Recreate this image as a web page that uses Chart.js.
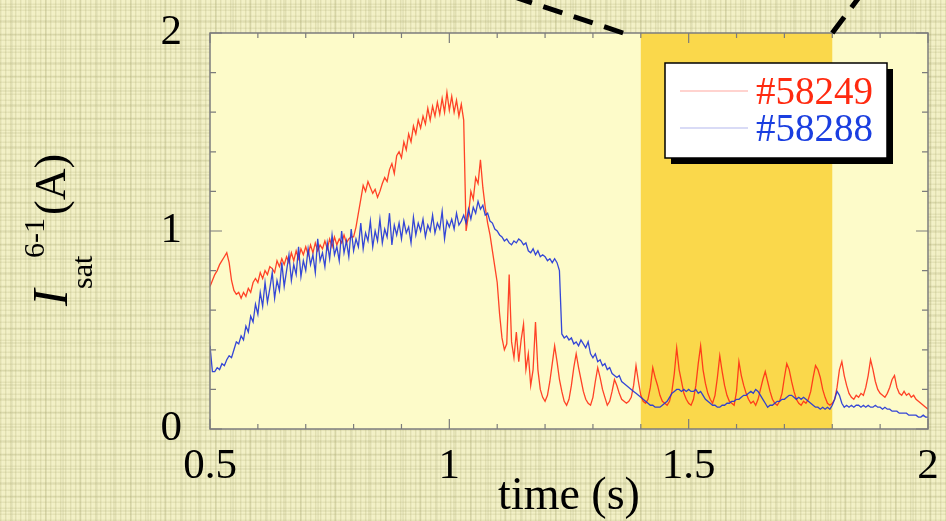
<!DOCTYPE html>
<html><head><meta charset="utf-8">
<script src="https://cdn.jsdelivr.net/npm/chart.js@4.4.1/dist/chart.umd.min.js"></script>
<style>
html,body{margin:0;padding:0;width:946px;height:521px;overflow:hidden;}
body{
  background-color:#f2f0c5;
  background-image:
    repeating-linear-gradient(90deg, rgba(165,163,105,0.22) 0px, rgba(165,163,105,0.22) 1px, rgba(255,255,235,0.18) 2px, transparent 3px, transparent 5px),
    repeating-linear-gradient(0deg, rgba(165,163,105,0.18) 0px, rgba(165,163,105,0.18) 1px, transparent 2px, transparent 6px),
    repeating-linear-gradient(90deg, transparent 0px, transparent 11px, rgba(140,140,85,0.13) 11px, rgba(140,140,85,0.13) 13px, transparent 13px, transparent 17px),
    repeating-linear-gradient(0deg, transparent 0px, transparent 9px, rgba(140,140,85,0.13) 9px, rgba(140,140,85,0.13) 11px, transparent 11px, transparent 14px);
}
canvas{display:block;}
</style></head><body>
<canvas id="c" width="946" height="521"></canvas>
<script>
// ---- data ----
const seriesNames = ['#58249', '#58288'];
const bandRange = [1.4, 1.8];
const xTickLabels = ['0.5', '1', '1.5', '2'];
const yTickLabels = ['0', '1', '2'];

const time = [
0.500,0.505,0.510,0.515,0.520,0.525,0.530,0.535,0.540,0.545,
0.550,0.555,0.560,0.565,0.570,0.575,0.580,0.585,0.590,0.595,
0.600,0.605,0.610,0.615,0.620,0.625,0.630,0.635,0.640,0.645,
0.650,0.655,0.660,0.665,0.670,0.675,0.680,0.685,0.690,0.695,
0.700,0.705,0.710,0.715,0.720,0.725,0.730,0.735,0.740,0.745,
0.750,0.755,0.760,0.765,0.770,0.775,0.780,0.785,0.790,0.795,
0.800,0.805,0.810,0.815,0.820,0.825,0.830,0.835,0.840,0.845,
0.850,0.855,0.860,0.865,0.870,0.875,0.880,0.885,0.890,0.895,
0.900,0.905,0.910,0.915,0.920,0.925,0.930,0.935,0.940,0.945,
0.950,0.955,0.960,0.965,0.970,0.975,0.980,0.985,0.990,0.995,
1.000,1.005,1.010,1.015,1.020,1.025,1.030,1.035,1.040,1.045,
1.050,1.055,1.060,1.065,1.070,1.075,1.080,1.085,1.090,1.095,
1.100,1.105,1.110,1.115,1.120,1.125,1.130,1.135,1.140,1.145,
1.150,1.155,1.160,1.165,1.170,1.175,1.180,1.185,1.190,1.195,
1.200,1.205,1.210,1.215,1.220,1.225,1.230,1.235,1.240,1.245,
1.250,1.255,1.260,1.265,1.270,1.275,1.280,1.285,1.290,1.295,
1.300,1.305,1.310,1.315,1.320,1.325,1.330,1.335,1.340,1.345,
1.350,1.355,1.360,1.365,1.370,1.375,1.380,1.385,1.390,1.395,
1.400,1.405,1.410,1.415,1.420,1.425,1.430,1.435,1.440,1.445,
1.450,1.455,1.460,1.465,1.470,1.475,1.480,1.485,1.490,1.495,
1.500,1.505,1.510,1.515,1.520,1.525,1.530,1.535,1.540,1.545,
1.550,1.555,1.560,1.565,1.570,1.575,1.580,1.585,1.590,1.595,
1.600,1.605,1.610,1.615,1.620,1.625,1.630,1.635,1.640,1.645,
1.650,1.655,1.660,1.665,1.670,1.675,1.680,1.685,1.690,1.695,
1.700,1.705,1.710,1.715,1.720,1.725,1.730,1.735,1.740,1.745,
1.750,1.755,1.760,1.765,1.770,1.775,1.780,1.785,1.790,1.795,
1.800,1.805,1.810,1.815,1.820,1.825,1.830,1.835,1.840,1.845,
1.850,1.855,1.860,1.865,1.870,1.875,1.880,1.885,1.890,1.895,
1.900,1.905,1.910,1.915,1.920,1.925,1.930,1.935,1.940,1.945,
1.950,1.955,1.960,1.965,1.970,1.975,1.980,1.985,1.990,1.995,2.000
];

const shot58249 = [
0.72,0.75,0.78,0.80,0.83,0.85,0.87,0.89,0.84,0.75,
0.70,0.68,0.69,0.66,0.69,0.67,0.71,0.69,0.74,0.76,
0.74,0.79,0.76,0.80,0.78,0.82,0.81,0.79,0.85,0.82,
0.86,0.83,0.87,0.84,0.89,0.85,0.90,0.86,0.91,0.88,
0.92,0.88,0.93,0.89,0.94,0.90,0.93,0.91,0.95,0.91,
0.96,0.92,0.97,0.93,0.96,0.94,0.98,0.94,0.96,0.97,
0.97,1.02,1.09,1.16,1.23,1.20,1.25,1.22,1.19,1.21,
1.17,1.20,1.24,1.27,1.25,1.31,1.34,1.29,1.38,1.40,
1.37,1.45,1.41,1.49,1.45,1.53,1.49,1.56,1.52,1.58,
1.54,1.62,1.56,1.63,1.58,1.65,1.59,1.67,1.60,1.70,
1.61,1.68,1.60,1.66,1.58,1.64,1.56,1.00,1.08,1.20,
1.16,1.27,1.24,1.36,1.22,1.12,1.04,0.98,0.90,0.82,
0.74,0.58,0.46,0.40,0.43,0.78,0.44,0.36,0.49,0.34,
0.45,0.53,0.30,0.38,0.22,0.30,0.54,0.30,0.20,0.16,
0.14,0.17,0.24,0.33,0.42,0.34,0.25,0.19,0.14,0.12,
0.15,0.22,0.31,0.38,0.31,0.25,0.19,0.15,0.13,0.12,
0.16,0.24,0.31,0.26,0.20,0.16,0.12,0.14,0.19,0.25,
0.22,0.18,0.15,0.14,0.13,0.14,0.16,0.22,0.32,0.24,
0.17,0.14,0.13,0.15,0.21,0.31,0.26,0.22,0.17,0.14,
0.13,0.12,0.14,0.19,0.28,0.41,0.30,0.24,0.18,0.15,
0.13,0.12,0.15,0.22,0.33,0.42,0.30,0.23,0.18,0.15,
0.13,0.17,0.26,0.37,0.29,0.22,0.17,0.14,0.13,0.12,
0.19,0.34,0.27,0.22,0.18,0.15,0.13,0.14,0.12,0.15,
0.20,0.25,0.29,0.24,0.19,0.15,0.13,0.12,0.14,0.18,
0.26,0.33,0.30,0.24,0.19,0.15,0.13,0.12,0.14,0.13,
0.15,0.19,0.26,0.32,0.30,0.26,0.20,0.16,0.13,0.12,
0.13,0.15,0.21,0.30,0.34,0.27,0.22,0.18,0.16,0.15,
0.17,0.16,0.18,0.17,0.21,0.27,0.35,0.30,0.24,0.20,
0.18,0.17,0.16,0.18,0.21,0.25,0.27,0.21,0.18,0.17,
0.19,0.17,0.18,0.16,0.17,0.15,0.14,0.13,0.12,0.11,0.10
];

const shot58288 = [
0.42,0.29,0.29,0.31,0.30,0.33,0.32,0.35,0.37,0.36,
0.40,0.44,0.43,0.47,0.45,0.52,0.49,0.57,0.54,0.63,
0.58,0.69,0.62,0.74,0.64,0.71,0.79,0.66,0.75,0.70,
0.84,0.72,0.80,0.88,0.75,0.83,0.78,0.92,0.77,0.85,
0.80,0.91,0.83,0.88,0.79,0.96,0.85,0.89,0.82,0.94,
0.86,0.98,0.88,0.92,0.85,1.00,0.89,0.95,0.87,1.01,
0.90,0.96,0.92,1.04,0.91,0.99,0.95,1.05,0.92,1.00,
0.95,1.06,0.94,1.01,0.97,1.09,0.93,1.03,0.98,1.04,
0.96,1.05,0.99,1.02,0.94,1.07,0.98,1.04,1.00,1.06,
0.97,1.03,1.00,1.08,0.99,1.04,1.01,1.10,0.96,1.05,
1.02,1.06,1.01,1.09,1.03,1.05,1.08,1.04,1.11,1.06,
1.12,1.09,1.15,1.11,1.13,1.08,1.09,1.05,1.04,1.01,
1.00,0.98,0.97,0.95,0.96,0.94,0.93,0.95,0.94,0.96,
0.95,0.93,0.94,0.90,0.89,0.91,0.88,0.90,0.87,0.88,
0.87,0.85,0.86,0.84,0.86,0.84,0.80,0.48,0.46,0.47,
0.45,0.46,0.43,0.44,0.42,0.45,0.43,0.41,0.44,0.38,
0.36,0.38,0.34,0.35,0.32,0.33,0.30,0.31,0.28,0.27,
0.26,0.27,0.24,0.23,0.22,0.21,0.20,0.19,0.18,0.17,
0.16,0.15,0.14,0.13,0.12,0.12,0.11,0.11,0.11,0.12,
0.13,0.14,0.16,0.18,0.19,0.20,0.20,0.19,0.20,0.19,
0.20,0.19,0.19,0.20,0.18,0.19,0.17,0.15,0.14,0.13,
0.12,0.12,0.11,0.11,0.12,0.12,0.13,0.13,0.14,0.14,
0.15,0.15,0.16,0.17,0.17,0.18,0.19,0.18,0.20,0.19,
0.17,0.15,0.13,0.11,0.12,0.12,0.13,0.14,0.14,0.15,
0.15,0.16,0.17,0.17,0.16,0.15,0.16,0.15,0.16,0.15,
0.14,0.13,0.12,0.11,0.11,0.10,0.11,0.10,0.11,0.10,
0.12,0.15,0.19,0.17,0.13,0.11,0.12,0.11,0.12,0.11,
0.12,0.12,0.11,0.12,0.11,0.12,0.11,0.11,0.12,0.11,
0.11,0.10,0.11,0.10,0.10,0.09,0.09,0.09,0.08,0.08,
0.08,0.08,0.07,0.07,0.07,0.07,0.06,0.06,0.07,0.06,0.06
];

// ---- styles ----
const SERIF = '"Liberation Serif", "Times New Roman", serif';
const lineColors = ['rgba(255,45,20,0.9)', 'rgba(30,50,215,0.9)'];
const legendLineColors = ['#ffa8a0', '#b4b8ee'];
const legendTextColors = ['#ff2a10', '#1a3ee0'];

function pts(ys){ return time.map((t,i)=>({x:t, y:ys[i]})); }
function isLabel(v, list){ return list.indexOf(String(Math.round(v*10)/10)) >= 0; }

const areaPlugin = {
  id:'area',
  beforeDatasetsDraw(chart){
    const {ctx, chartArea:a, scales:{x}} = chart;
    ctx.save();
    ctx.fillStyle = '#fdfbc9';
    ctx.fillRect(a.left, a.top, a.right-a.left, a.bottom-a.top);
    const b0 = x.getPixelForValue(bandRange[0]), b1 = x.getPixelForValue(bandRange[1]);
    ctx.fillStyle = '#fad84b';
    ctx.fillRect(b0, a.top, b1-b0, a.bottom-a.top);
    ctx.restore();
  }
};

const decoPlugin = {
  id:'deco',
  afterDraw(chart){
    const {ctx, chartArea:a, scales:{x, y}} = chart;
    ctx.save();
    // frame
    ctx.strokeStyle = '#7c7c7c';
    ctx.lineWidth = 1.5;
    ctx.strokeRect(a.left, a.top, a.right-a.left, a.bottom-a.top);
    // ticks
    ctx.lineWidth = 1.2;
    x.ticks.forEach(t=>{
      const px = x.getPixelForValue(t.value);
      const L = isLabel(t.value, xTickLabels) ? 10 : 5;
      ctx.beginPath();
      ctx.moveTo(px, a.bottom); ctx.lineTo(px, a.bottom-L);
      ctx.moveTo(px, a.top); ctx.lineTo(px, a.top+L);
      ctx.stroke();
    });
    y.ticks.forEach(t=>{
      const py = y.getPixelForValue(t.value);
      const L = isLabel(t.value, yTickLabels) ? 12 : 6;
      ctx.beginPath();
      ctx.moveTo(a.left, py); ctx.lineTo(a.left+L, py);
      ctx.moveTo(a.right, py); ctx.lineTo(a.right-L, py);
      ctx.stroke();
    });
    // dashed zoom lines
    ctx.strokeStyle = '#000';
    ctx.lineWidth = 5;
    ctx.setLineDash([20, 12]);
    const l0 = x.getPixelForValue(1.363);
    ctx.beginPath(); ctx.moveTo(l0, a.top); ctx.lineTo(l0-106, a.top-35); ctx.stroke();
    const r0 = x.getPixelForValue(bandRange[1]);
    ctx.beginPath(); ctx.moveTo(r0, a.top); ctx.lineTo(r0+30, a.top-40); ctx.stroke();
    ctx.setLineDash([]);
    // legend
    const bw = 222, bh = 95;
    const bx = a.right - 41 - bw, by = a.top + 30;
    ctx.fillStyle = '#000';
    ctx.fillRect(bx+6, by+6, bw, bh);
    ctx.fillStyle = '#fff';
    ctx.fillRect(bx, by, bw, bh);
    ctx.strokeStyle = '#000';
    ctx.lineWidth = 1.5;
    ctx.strokeRect(bx, by, bw, bh);
    ctx.font = '39px ' + SERIF;
    ctx.textBaseline = 'alphabetic';
    ctx.textAlign = 'left';
    seriesNames.forEach((name, i)=>{
      const ly = by + 28 + i*37;
      ctx.strokeStyle = legendLineColors[i];
      ctx.lineWidth = 1.2;
      ctx.beginPath(); ctx.moveTo(bx+15, ly); ctx.lineTo(bx+83, ly); ctx.stroke();
      ctx.fillStyle = legendTextColors[i];
      ctx.fillText(name, bx+91, ly+13);
    });
    // x title
    ctx.fillStyle = '#000';
    ctx.font = '46px ' + SERIF;
    ctx.textAlign = 'center';
    ctx.fillText('time (s)', (a.left+a.right)/2, 509);
    // y title (rotated)
    ctx.rotate(-Math.PI/2);
    ctx.textAlign = 'left';
    ctx.font = 'italic 50px ' + SERIF;
    ctx.fillText('I', -306, 67);
    ctx.font = '30px ' + SERIF;
    ctx.fillText('sat', -289, 92);
    ctx.fillText('6-1', -258, 44);
    ctx.font = '44px ' + SERIF;
    ctx.fillText('(A)', -215, 65);
    ctx.restore();
  }
};

new Chart(document.getElementById('c').getContext('2d'), {
  type:'line',
  data:{
    datasets:[
      {label:seriesNames[0], data:pts(shot58249), borderColor:lineColors[0], borderWidth:1.3, pointRadius:0, tension:0, order:1},
      {label:seriesNames[1], data:pts(shot58288), borderColor:lineColors[1], borderWidth:1.3, pointRadius:0, tension:0, order:0}
    ]
  },
  options:{
    responsive:false, animation:false, devicePixelRatio:1,
    layout:{padding:{top:33, right:18, left:0, bottom:0}},
    plugins:{legend:{display:false}, tooltip:{enabled:false}},
    scales:{
      x:{
        type:'linear', min:0.5, max:2,
        grid:{display:false}, border:{display:false},
        ticks:{stepSize:0.1, autoSkip:false, maxRotation:0, minRotation:0, padding:4, color:'#000',
          font:{family:SERIF, size:43},
          callback:(v)=> isLabel(v, xTickLabels) ? String(Math.round(v*10)/10) : ''},
        afterFit(s){ s.height = 92; s.paddingLeft = 0; s.paddingRight = 0; }
      },
      y:{
        type:'linear', min:0, max:2,
        grid:{display:false}, border:{display:false},
        ticks:{stepSize:0.2, autoSkip:false, padding:20, color:'#000',
          font:{family:SERIF, size:43},
          callback:(v)=> isLabel(v, yTickLabels) ? String(Math.round(v)) : ''},
        afterFit(s){ s.width = 210; s.paddingTop = 0; s.paddingBottom = 0; }
      }
    }
  },
  plugins:[areaPlugin, decoPlugin]
});
</script></body></html>
